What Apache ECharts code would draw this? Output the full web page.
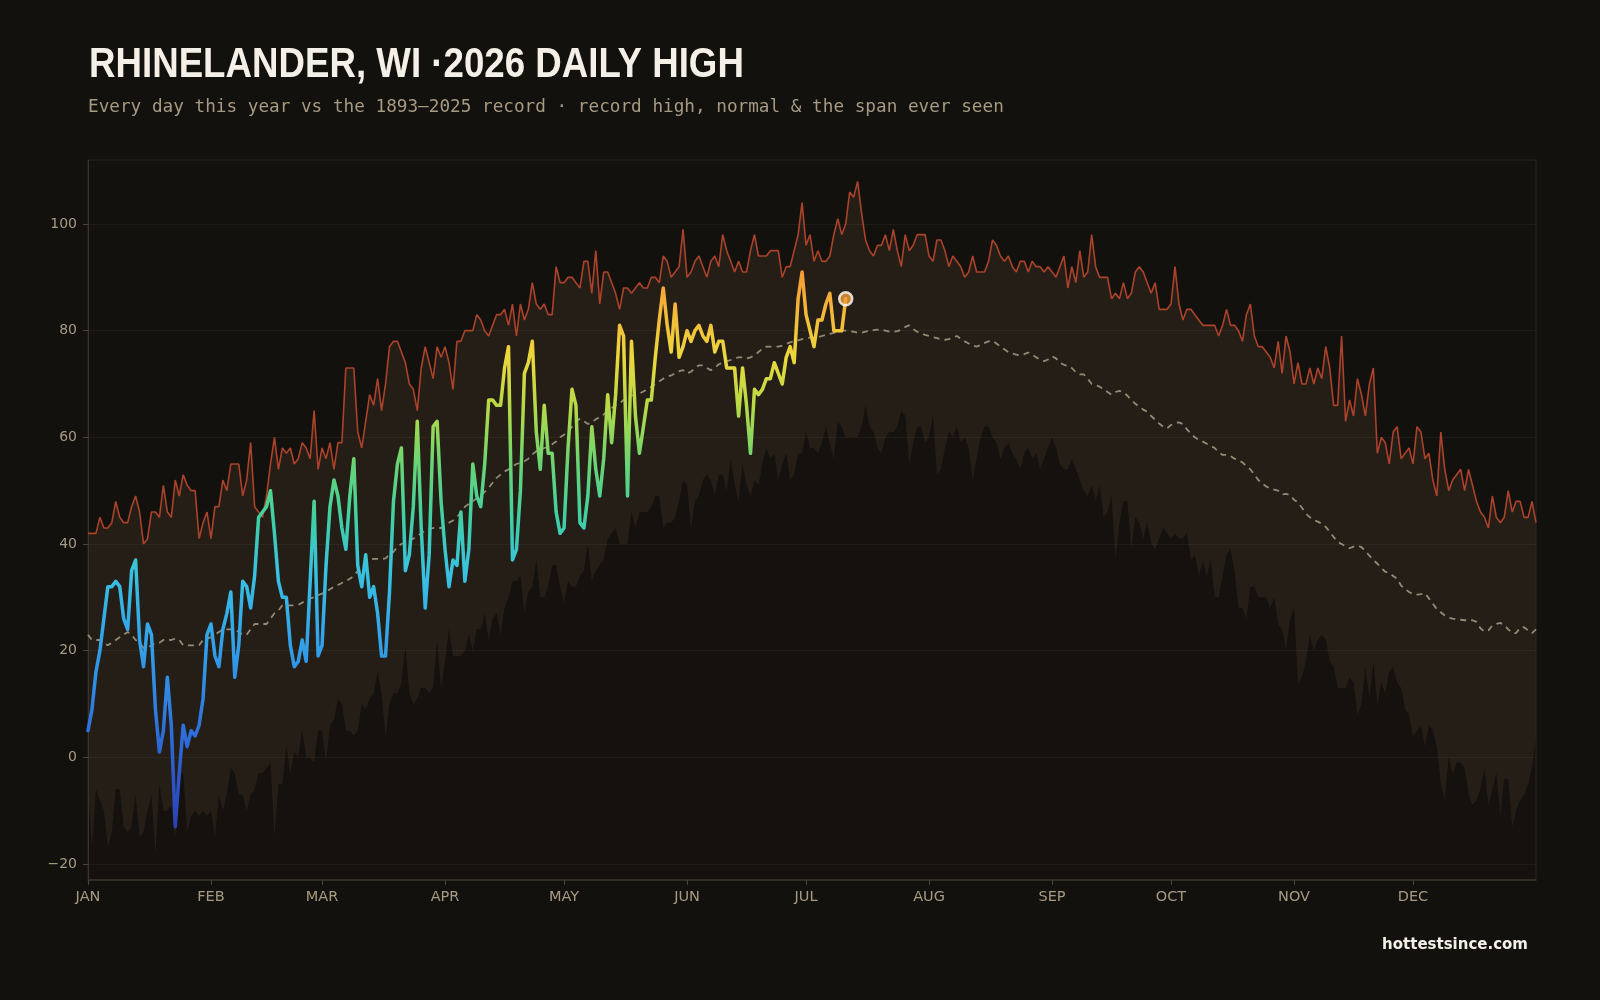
<!DOCTYPE html>
<html>
<head>
<meta charset="utf-8">
<title>Rhinelander daily high</title>
<script src="https://cdn.jsdelivr.net/npm/echarts@6/dist/echarts.min.js"></script>
<style>
  html, body { margin: 0; padding: 0; background: #13110e; }
  #chart { width: 1600px; height: 1000px; }
</style>
</head>
<body>
<div id="chart"></div>
<script>
// month starts (day of year, 0 = Jan 1) and their labels
const monthStarts = [0, 31, 59, 90, 120, 151, 181, 212, 243, 273, 304, 334];
const monthNames = ['JAN', 'FEB', 'MAR', 'APR', 'MAY', 'JUN', 'JUL', 'AUG', 'SEP', 'OCT', 'NOV', 'DEC'];
const yTicks = [-20, 0, 20, 40, 60, 80, 100];

// record high for each day, 1893-2025
const recordHigh = [
  42, 42, 42, 45, 43, 43, 44, 48, 45, 44, 44, 47, 49, 46, 40, 41, 46, 46, 45, 51, 46, 45, 52, 49, 53, 51, 50, 50, 41, 44, 46, 41, 47, 47, 52, 50, 55, 55, 55, 49, 52, 59, 47, 46, 45, 49, 55, 60, 54, 58,
  57, 58, 55, 56, 59, 58, 56, 65, 54, 58, 56, 59, 54, 59, 59, 73, 73, 73, 61, 58, 63, 68, 66, 71, 65, 70, 77, 78, 78, 76, 74, 70, 69, 65, 73, 77, 74, 71, 77, 75, 77, 74, 69, 78, 78, 80, 80, 80, 83, 82,
  80, 79, 81, 83, 83, 84, 81, 85, 79, 85, 82, 84, 89, 85, 84, 85, 83, 83, 92, 89, 89, 90, 90, 89, 88, 93, 93, 87, 95, 85, 91, 91, 89, 87, 84, 88, 88, 87, 88, 89, 88, 88, 90, 90, 89, 94, 93, 90, 91, 92,
  99, 90, 91, 93, 94, 92, 90, 93, 94, 92, 98, 95, 93, 91, 93, 91, 91, 95, 98, 94, 94, 94, 95, 95, 95, 90, 92, 92, 95, 98, 104, 96, 98, 93, 95, 93, 93, 94, 98, 101, 98, 100, 106, 105, 108, 102, 97, 95, 94, 96,
  96, 98, 95, 99, 95, 92, 98, 95, 96, 98, 98, 98, 94, 93, 97, 97, 95, 92, 94, 93, 92, 90, 91, 94, 91, 91, 91, 93, 97, 96, 94, 93, 94, 92, 91, 93, 93, 91, 93, 92, 92, 91, 92, 91, 90, 92, 94, 88, 92, 89,
  95, 90, 91, 98, 92, 90, 90, 90, 86, 87, 86, 89, 86, 87, 91, 92, 91, 89, 87, 89, 84, 84, 84, 85, 92, 85, 82, 84, 84, 83, 82, 81, 81, 81, 81, 79, 81, 84, 81, 81, 80, 78, 83, 85, 79, 77, 77, 76, 75, 73,
  78, 72, 79, 76, 70, 74, 70, 70, 73, 70, 73, 71, 77, 73, 66, 66, 79, 63, 67, 64, 71, 68, 64, 70, 73, 57, 60, 59, 55, 61, 62, 56, 57, 58, 55, 62, 61, 56, 57, 52, 49, 61, 54, 50, 52, 53, 54, 50, 54, 51,
  48, 46, 45, 43, 49, 45, 44, 45, 50, 46, 48, 48, 45, 45, 48, 44
];

// lowest daily high ever seen (bottom of the span)
const recordLow = [
  -6, -17, -6, -8, -10, -17, -14, -6, -6, -13, -14, -13, -7, -15, -14, -10, -7, -18, -5, -10, -10, -9, -15, -3, -3, -14, -11, -10, -11, -10, -11, -10, -15, -7, -10, -7, -2, -3, -7, -7, -10, -7, -6, -3, -3, -2, -1, -15, -5, -5,
  2, -3, 1, 0, 5, 0, 0, -1, 5, 5, -1, 6, 7, 11, 10, 5, 5, 4, 5, 10, 9, 11, 12, 16, 12, 4, 10, 12, 12, 14, 21, 12, 10, 11, 13, 13, 12, 13, 22, 13, 18, 24, 19, 19, 19, 20, 23, 20, 24, 24,
  27, 22, 26, 27, 23, 28, 30, 33, 33, 34, 27, 31, 32, 37, 30, 30, 32, 36, 36, 32, 29, 33, 32, 32, 34, 35, 40, 33, 35, 36, 37, 41, 42, 43, 40, 40, 40, 46, 43, 46, 46, 46, 47, 49, 49, 43, 44, 44, 45, 48,
  52, 51, 43, 48, 49, 52, 53, 52, 49, 53, 53, 50, 56, 51, 48, 55, 51, 49, 52, 51, 55, 58, 56, 57, 52, 55, 57, 52, 53, 57, 57, 61, 58, 58, 57, 59, 62, 59, 56, 63, 62, 60, 60, 60, 60, 62, 66, 62, 61, 58,
  57, 60, 61, 61, 62, 65, 64, 55, 59, 62, 62, 59, 60, 64, 53, 54, 58, 61, 60, 62, 59, 60, 58, 52, 56, 60, 62, 62, 60, 59, 56, 58, 59, 57, 56, 54, 57, 58, 56, 57, 54, 56, 58, 60, 58, 55, 54, 54, 56, 54,
  52, 50, 49, 51, 48, 51, 45, 46, 49, 37, 44, 48, 48, 39, 45, 44, 41, 44, 40, 39, 41, 43, 42, 41, 42, 41, 41, 42, 37, 38, 34, 37, 34, 37, 30, 30, 34, 38, 39, 35, 28, 28, 26, 32, 32, 30, 30, 30, 28, 30,
  25, 24, 20, 26, 28, 14, 15, 18, 23, 20, 22, 23, 22, 18, 17, 13, 13, 13, 15, 14, 8, 10, 17, 11, 18, 10, 14, 12, 16, 17, 14, 13, 9, 8, 4, 5, 6, 2, 6, 5, 2, -5, -8, 0, -3, -1, -1, -2, -7, -9,
  -8, -6, -2, -9, -6, -3, -11, -4, -4, -13, -10, -8, -7, -5, -2, 4
];

// normal daily high
const normalHigh = [
  23, 22, 22, 22, 21.5, 21, 21.5, 22, 22.5, 23, 23.5, 23, 22, 21.5, 20.5, 20.5, 21, 21.5, 21.5, 22, 22, 22, 22.3, 22, 21, 21, 21, 21, 21, 22, 22.3, 22.5, 23, 23.5, 24, 24, 24, 24, 23.5, 23, 23, 24, 25, 25, 25, 25, 26, 27, 27.5, 28.5,
  28.5, 28.5, 28.5, 28.6, 29, 29.5, 29.8, 30, 30.4, 30.7, 31, 31.5, 32, 32.3, 32.7, 33, 33.5, 34, 35, 35.6, 36.5, 37, 37.2, 37.2, 37.2, 37.3, 38, 38.5, 39.5, 40, 40.3, 40.7, 41, 41.5, 42, 42.5, 42.8, 43, 43, 43, 43.5, 44, 44.4, 45, 46, 47, 47.5, 48, 48.6, 49,
  49.8, 50.5, 51.5, 52.4, 53, 53.6, 54, 54.5, 55, 55.2, 55.5, 56, 56.8, 57.4, 57.6, 58, 58.2, 58.7, 59.2, 60, 60.5, 61, 62, 63, 63.5, 63, 62.5, 62.8, 63.4, 63.8, 64.3, 65, 65.5, 66, 66.4, 67, 67.4, 67.8, 68, 68.2, 68.6, 69, 69.5, 70, 70.5, 71, 71.4, 71.6, 72, 72.4,
  72.6, 72, 72.3, 73, 73.5, 73.5, 73, 72.6, 73, 73.7, 74, 74.3, 74.5, 74.8, 75, 75, 74.8, 75, 75.4, 76, 76.6, 77, 77, 77, 77, 77.2, 77.5, 77.8, 78, 78.2, 78.4, 78.6, 78.7, 78.7, 78.8, 79, 79.2, 79.4, 79.6, 79.8, 80, 80, 79.9, 79.8, 79.6, 79.6, 79.8, 80, 80.1, 80.2,
  80.2, 80, 79.8, 79.8, 79.9, 80.2, 80.7, 81, 80.3, 79.8, 79.5, 79.2, 79, 78.8, 78.6, 78.4, 78.3, 78.4, 78.7, 79, 78.5, 78, 77.6, 77.2, 77, 77.3, 77.7, 78, 78.1, 77.6, 77, 76.5, 76, 75.7, 75.5, 75.4, 75.6, 75.9, 75.5, 75, 74.6, 74.3, 74.6, 75.2, 74.8, 74, 73.6, 73.4, 73, 72.2,
  71.8, 71.8, 71, 70, 69.8, 69.5, 69, 68.5, 68, 68.5, 68.7, 68.5, 67.8, 67, 66.3, 65.7, 65.2, 64.8, 64, 63.3, 62.6, 62, 61.7, 62.3, 62.7, 62.8, 62.5, 61.5, 60.7, 60, 59.5, 59.2, 58.8, 58.4, 58, 57.2, 56.7, 56.7, 56.5, 56, 55.7, 55.3, 54.6, 54, 53, 52, 51.3, 50.8, 50.4, 50.2,
  50, 49.3, 49.4, 49.2, 48.3, 47.8, 46.8, 45.7, 45, 44.5, 44.2, 43.8, 43.2, 42.3, 41.3, 40.4, 40, 39.6, 39.2, 39.5, 39.7, 39.4, 38.7, 37.8, 37, 36.3, 35.5, 34.8, 34.6, 34, 33.5, 32.2, 31.6, 31, 30.6, 30.5, 30.6, 30.8, 29.8, 28.8, 27.8, 27.2, 26.6, 26.2, 26, 25.9, 25.8, 25.7, 25.7, 25.7,
  25.4, 24.2, 23.6, 23.8, 24.7, 25, 25.2, 24.8, 24, 23.3, 23.3, 24.3, 24.4, 23.8, 23.3, 24
];

// 2026 observed daily highs, Jan 1 - Jul 11
const thisYear = [
  5, 9, 16, 20, 26, 32, 32, 33, 32, 26, 24, 35, 37, 22, 17, 25, 23, 9, 1, 5, 15, 6, -13, -3, 6, 2, 5, 4, 6, 11, 23, 25, 19, 17, 24, 27, 31, 15, 21, 33, 32, 28, 34, 45, 46, 47, 50, 42, 33, 30,
  30, 21, 17, 18, 22, 18, 33, 48, 19, 21, 36, 47, 52, 49, 43, 39, 49, 56, 36, 32, 38, 30, 32, 27, 19, 19, 31, 48, 55, 58, 35, 38, 47, 63, 43, 28, 38, 62, 63, 48, 39, 32, 37, 36, 46, 33, 39, 55, 49, 47,
  55, 67, 67, 66, 66, 73, 77, 37, 39, 50, 72, 74, 78, 61, 54, 66, 57, 57, 46, 42, 43, 58, 69, 66, 44, 43, 49, 62, 54, 49, 56, 68, 59, 68, 81, 79, 49, 78, 64, 57, 62, 67, 67, 75, 82, 88, 81, 76, 85, 75,
  77, 80, 78, 80, 81, 79, 78, 81, 76, 78, 78, 73, 73, 73, 64, 73, 66, 57, 69, 68, 69, 71, 71, 74, 72, 70, 75, 77, 74, 86, 91, 83, 80, 77, 82, 82, 85, 87, 80, 80, 80, 86
];

const asPairs = arr => arr.map((v, i) => [i, v]);
const lastDay = thisYear.length - 1;

const bgColor = '#13110e';
const textColor = '#a69a83';
const sansFont = "'DejaVu Sans', sans-serif";

const chart = echarts.init(document.getElementById('chart'), null, { renderer: 'canvas' });

chart.setOption({
  backgroundColor: bgColor,
  animation: false,
  title: [
    {
      text: 'Every day this year vs the 1893\u20132025 record \u00b7 record high, normal & the span ever seen',
      left: 88,
      top: 98,
      padding: 0,
      textStyle: {
        color: textColor,
        fontSize: 17.7,
        fontWeight: 'normal',
        fontFamily: "'DejaVu Sans Mono', monospace"
      }
    },
    {
      text: 'hottestsince.com',
      right: 72,
      top: 938,
      padding: 0,
      textStyle: {
        color: '#f4f0e8',
        fontSize: 15,
        fontWeight: 'bold',
        fontFamily: sansFont
      }
    }
  ],
  // headline is squeezed sideways, the installed fonts have no narrow bold cut
  graphic: [
    {
      type: 'text',
      x: 89,
      y: 44,
      scaleX: 0.853,
      style: {
        text: 'RHINELANDER, WI ·2026 DAILY HIGH',
        fill: '#f4f0e8',
        font: "bold 43px 'Liberation Sans', Arial, sans-serif"
      }
    }
  ],
  grid: {
    left: 88,
    right: 64,
    top: 160,
    bottom: 120,
    show: true,
    borderColor: '#2a2620',
    borderWidth: 1,
    z: 3
  },
  xAxis: {
    type: 'value',
    min: 0,
    max: 365,
    z: 3,
    axisLine: { onZero: false, lineStyle: { color: '#3a342b', width: 1.5 } },
    axisTick: { show: true, length: 5, customValues: monthStarts, lineStyle: { color: '#4a4336' } },
    axisLabel: {
      customValues: monthStarts,
      color: textColor,
      fontSize: 14.5,
      fontFamily: sansFont,
      margin: 10,
      formatter: v => monthNames[monthStarts.indexOf(v)] || ''
    },
    splitLine: { show: false }
  },
  yAxis: {
    type: 'value',
    min: -23,
    max: 112,
    z: 3,
    axisLine: { show: true, onZero: false, lineStyle: { color: '#3a342b' } },
    axisTick: { show: true, length: 5, customValues: yTicks, lineStyle: { color: '#4a4336' } },
    axisLabel: {
      customValues: yTicks,
      color: textColor,
      fontSize: 14,
      fontFamily: sansFont,
      margin: 11,
      formatter: v => (v < 0 ? '\u2212' + Math.abs(v) : String(v))
    },
    splitLine: { show: true, lineStyle: { color: 'rgba(255,235,205,0.05)', width: 1 } }
  },
  visualMap: {
    show: false,
    type: 'continuous',
    seriesIndex: 4,
    dimension: 1,
    min: -15,
    max: 95,
    inRange: {
      color: ['#2a3cb0', '#2c55c8', '#2e70dc', '#3090e6', '#34aaea', '#38c2e0',
              '#40d0a4', '#68d474', '#b0da48', '#ecd83c', '#f6b23a', '#f08a2c']
    }
  },
  series: [
    {
      // span ever seen: filled from the record high down...
      name: 'span',
      type: 'line',
      data: asPairs(recordHigh),
      symbol: 'none',
      silent: true,
      lineStyle: { width: 0, opacity: 0 },
      areaStyle: { color: '#241e17', opacity: 1, origin: 'start' },
      z: 1
    },
    {
      // ...then cut away below the lowest high ever seen
      name: 'below span',
      type: 'line',
      data: asPairs(recordLow),
      symbol: 'none',
      silent: true,
      lineStyle: { width: 0, opacity: 0 },
      areaStyle: { color: '#14110e', opacity: 1, origin: 'start' },
      z: 1
    },
    {
      name: 'record high',
      type: 'line',
      data: asPairs(recordHigh),
      symbol: 'none',
      lineStyle: { color: '#ab432b', width: 1.6 },
      z: 5
    },
    {
      name: 'normal',
      type: 'line',
      data: asPairs(normalHigh),
      symbol: 'none',
      lineStyle: { color: '#a89c86', width: 1.8, type: [6, 5], opacity: 0.85 },
      z: 5
    },
    {
      name: '2026',
      type: 'line',
      data: asPairs(thisYear),
      symbol: 'none',
      lineStyle: { width: 3.5, cap: 'round', join: 'round' },
      z: 6
    },
    {
      name: 'latest',
      type: 'scatter',
      data: [[lastDay, thisYear[lastDay]]],
      symbolSize: 13,
      itemStyle: { color: '#f2a03a', borderColor: '#ffffff', borderWidth: 2.5 },
      z: 7
    }
  ]
});
</script>
</body>
</html>
